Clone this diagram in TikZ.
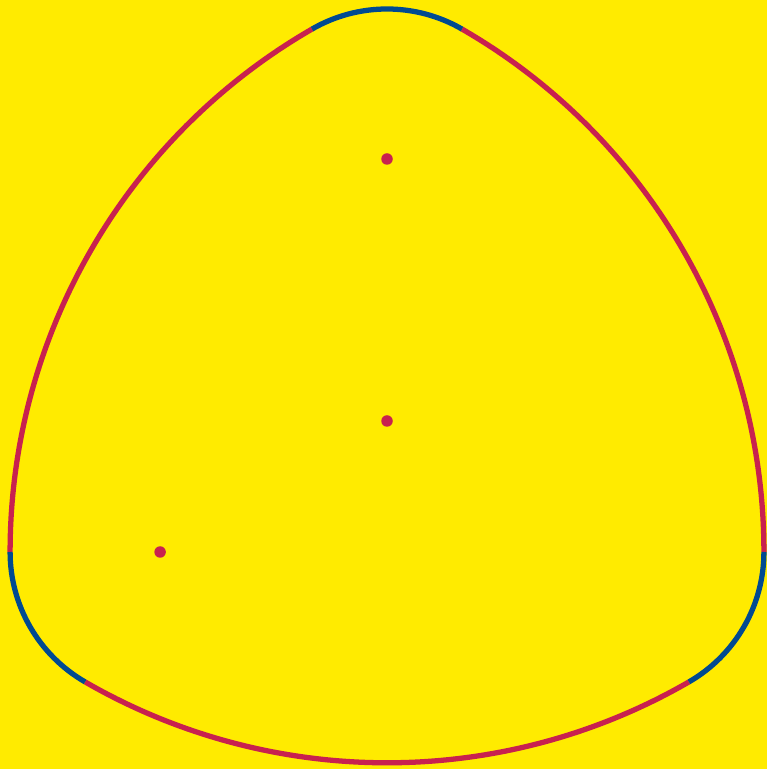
\documentclass[tikz,border=0pt]{standalone}
\usepackage{xcolor}
\definecolor{bgyellow}{HTML}{FFEB00}
\definecolor{arcred}{HTML}{C8214F}
\definecolor{arcblue}{HTML}{004A91}
\usepackage{tikz}
\usetikzlibrary{calc}
\tikzset{
    redarc/.style = {draw=arcred, line width=1.5pt},
    bluearc/.style = {draw=arcblue, line width=1.5pt},
    dot/.style = {circle, fill=arcred, inner sep=0pt, minimum size=1.15mm},
}

\begin{document}
\begin{tikzpicture}
        % background
        \fill[bgyellow] (-3.87,-3.48) rectangle (3.80,4.21);
        \useasboundingbox (-3.87,-3.48) rectangle (3.80,4.21);
        % triangle vertices
        \coordinate (A) at (90:2.62);
        \coordinate (B) at (210:2.62);
        \coordinate (C) at (330:2.62);
        % long arcs, radius side + offset
        \draw[redarc] ([shift={(240:6.038)}]A) arc[start angle=240, end angle=300, radius=6.038];
        \draw[redarc] ([shift={(0:6.038)}]B) arc[start angle=0, end angle=60, radius=6.038];
        \draw[redarc] ([shift={(120:6.038)}]C) arc[start angle=120, end angle=180, radius=6.038];
        % corner arcs, radius offset
        \draw[bluearc] ([shift={(60:1.5)}]A) arc[start angle=60, end angle=120, radius=1.5];
        \draw[bluearc] ([shift={(180:1.5)}]B) arc[start angle=180, end angle=240, radius=1.5];
        \draw[bluearc] ([shift={(300:1.5)}]C) arc[start angle=300, end angle=360, radius=1.5];
        % points
        \node[dot] (top) at (A) {};
        \node[dot] (mid) at (0,0) {};
        \node[dot] (left) at (B) {};
      \end{tikzpicture}
\end{document}
